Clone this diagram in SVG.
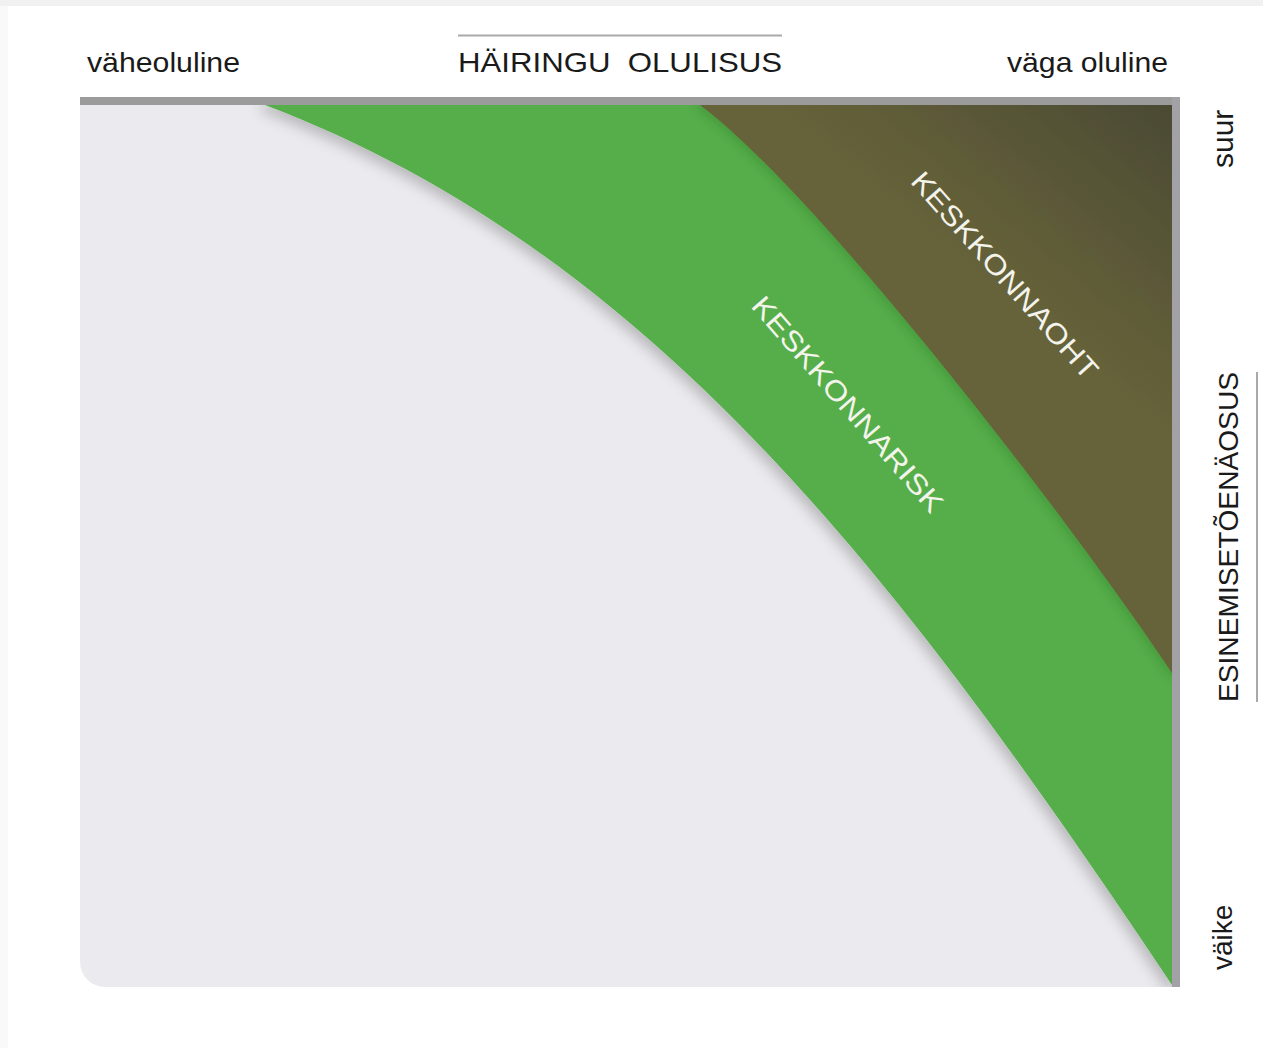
<svg xmlns="http://www.w3.org/2000/svg" width="1263" height="1048" viewBox="0 0 1263 1048">
  <style>
    .lbl { font-family: "Liberation Sans", Arial, sans-serif; font-size: 28px; fill: #1a1a1a; }
    .zone { font-family: "Liberation Sans", Arial, sans-serif; font-size: 28px; fill: #f4f4ec; }
    .rule { stroke: #a9a9a9; stroke-width: 2; fill: none; }
  </style>
  <defs>
    <clipPath id="plotClip">
      <rect x="80" y="105" width="1092" height="882"/>
    </clipPath>
    <filter id="shadowGreen" x="-20%" y="-20%" width="140%" height="140%">
      <feDropShadow dx="-4" dy="6" stdDeviation="7" flood-color="#000" flood-opacity="0.22"/>
    </filter>
    <filter id="shadowDark" x="-20%" y="-20%" width="140%" height="140%">
      <feDropShadow dx="-3" dy="4" stdDeviation="5" flood-color="#1c3a14" flood-opacity="0.16"/>
    </filter>
    <linearGradient id="darkGrad" gradientUnits="userSpaceOnUse" x1="1172" y1="105" x2="1010" y2="300">
      <stop offset="0" stop-color="#4b4a33"/>
      <stop offset="1" stop-color="#66633a"/>
    </linearGradient>
  </defs>

  <rect x="0" y="0" width="1263" height="1048" fill="#ffffff"/>
  <rect x="0" y="0" width="1263" height="6" fill="#f1f1f1"/>
  <rect x="0" y="6" width="8" height="1042" fill="#f9f9f9"/>

  <g id="plot">
    <path id="low-zone" d="M80,105 H1172 V987 H105 A25,25 0 0 1 80,962 Z" fill="#ebebef"/>
    <g clip-path="url(#plotClip)">
      <path id="risk-zone" d="M265,105 C645,249 892,565 1172,985 L1180,985 L1180,97 L265,97 Z" fill="#54ae49" filter="url(#shadowGreen)"/>
      <path id="hazard-zone" d="M700,105 C820,195 1072,523 1172,673 L1180,673 L1180,97 L700,97 Z" fill="url(#darkGrad)" filter="url(#shadowDark)"/>
    </g>
    <rect id="top-border" x="80" y="97" width="1100" height="8" fill="#9b9b9b"/>
    <rect id="right-border" x="1172" y="97" width="8" height="890" fill="#a2a2a6"/>
  </g>

  <g id="axis-x">
    <line class="rule" x1="458" y1="35.5" x2="782" y2="35.5"/>
    <text class="lbl" x="458" y="72" textLength="324" lengthAdjust="spacingAndGlyphs" xml:space="preserve">HÄIRINGU  OLULISUS</text>
    <text class="lbl" x="87" y="72" textLength="153" lengthAdjust="spacingAndGlyphs">väheoluline</text>
    <text class="lbl" x="1007" y="72" textLength="161" lengthAdjust="spacingAndGlyphs">väga oluline</text>
  </g>

  <g id="axis-y">
    <line class="rule" x1="1257" y1="372" x2="1257" y2="702"/>
    <text class="lbl" transform="translate(1238,702) rotate(-90)" x="0" y="0" textLength="330" lengthAdjust="spacingAndGlyphs">ESINEMISETÕENÄOSUS</text>
    <text class="lbl" transform="translate(1233,168) rotate(-90)" x="0" y="0" style="font-size:30px">suur</text>
    <text class="lbl" transform="translate(1232,970) rotate(-90)" x="0" y="0">väike</text>
  </g>

  <g id="zone-labels">
    <text class="zone" transform="translate(848,404) rotate(49)" x="0" y="10" text-anchor="middle" textLength="276" lengthAdjust="spacingAndGlyphs">KESKKONNARISK</text>
    <text class="zone" transform="translate(1005,275) rotate(48.5)" x="0" y="10" text-anchor="middle" textLength="266" lengthAdjust="spacingAndGlyphs">KESKKONNAOHT</text>
  </g>
</svg>
